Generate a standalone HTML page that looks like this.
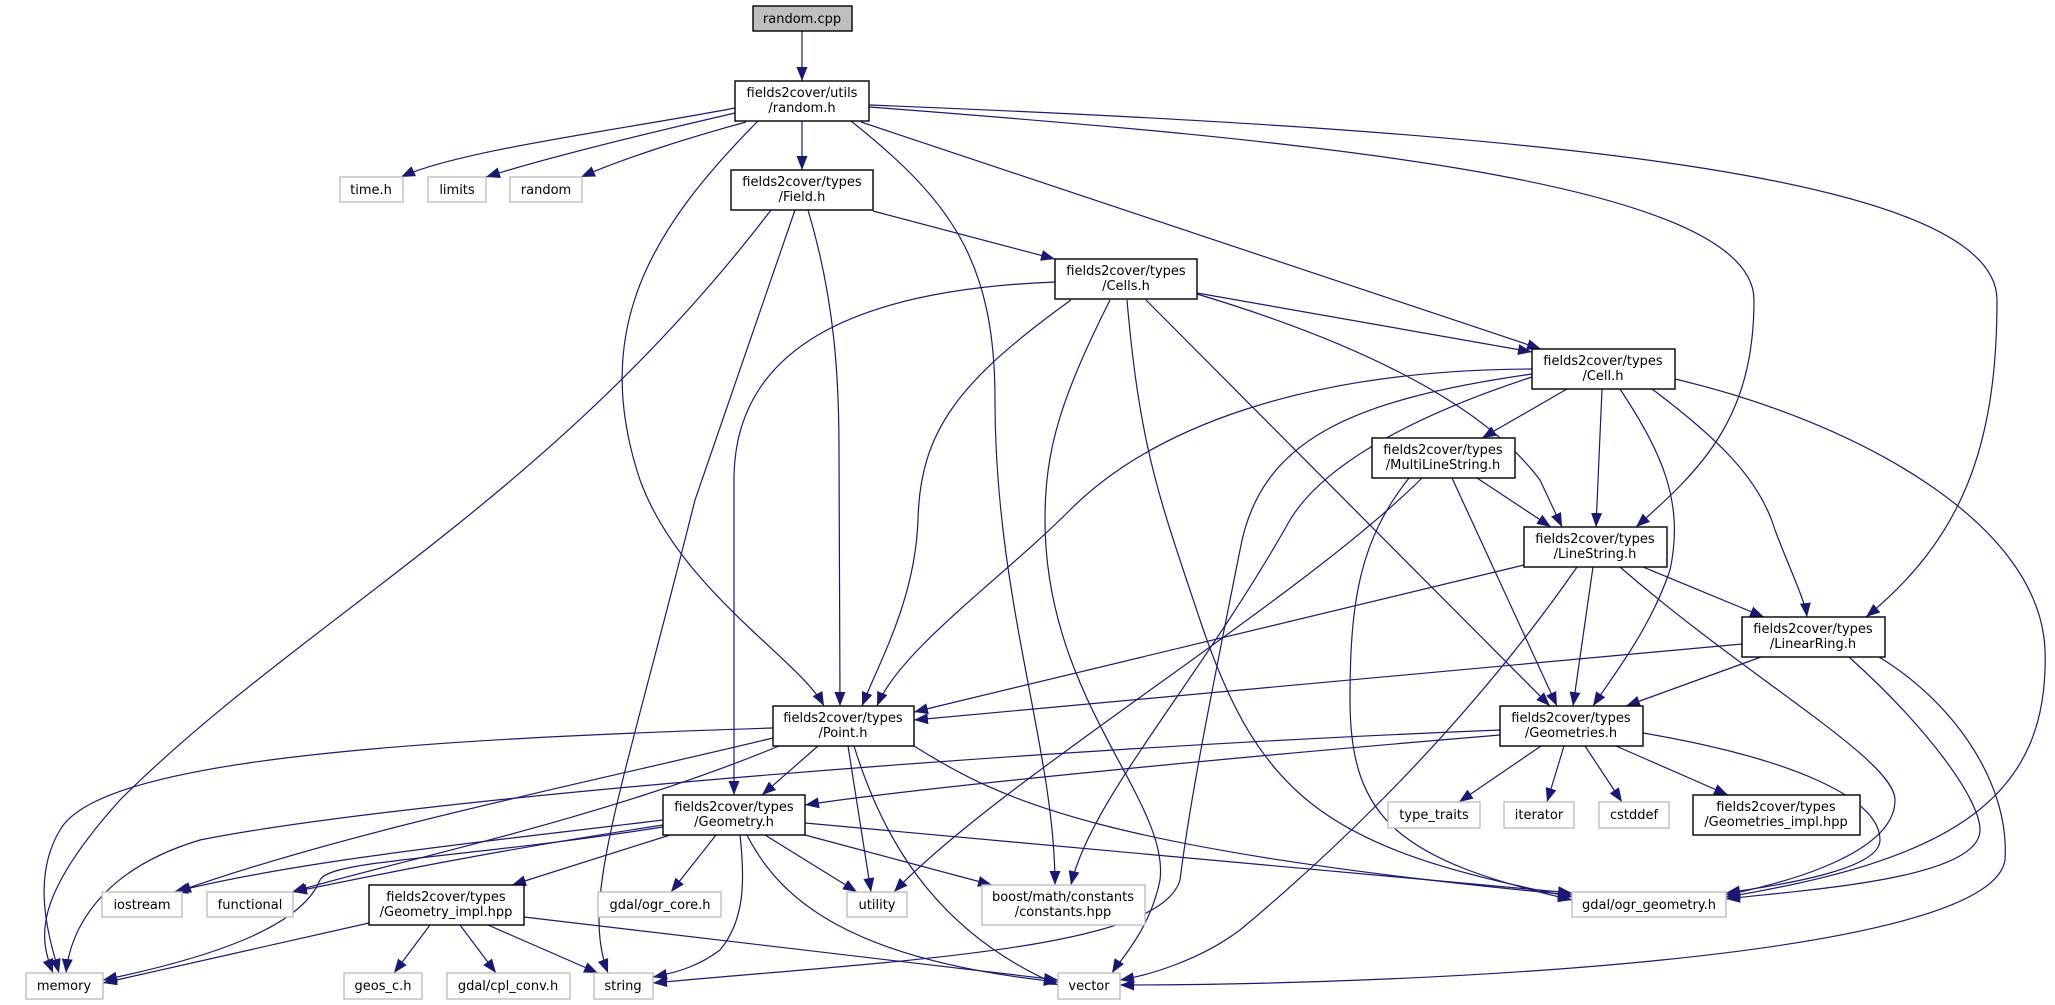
<!DOCTYPE html>
<html><head><meta charset="utf-8"><style>
html,body{margin:0;padding:0;background:#fff;}
svg{display:block;}
text{font-family:"DejaVu Sans","Liberation Sans",sans-serif;font-size:13px;fill:#000;text-anchor:middle;}
.e{fill:none;stroke:#191970;stroke-width:1.2;marker-end:url(#a);}
.n{fill:#fff;stroke:#000;stroke-width:1.4;}
.x{fill:#fff;stroke:#bfbfbf;stroke-width:1.4;}
</style></head><body>
<svg width="2055" height="1005" viewBox="0 0 2055 1005" xmlns="http://www.w3.org/2000/svg">
<defs><marker id="a" markerUnits="userSpaceOnUse" markerWidth="15" markerHeight="11" refX="14" refY="5.5" orient="auto"><path d="M0,0 L14,5.5 L0,11 z" fill="#191970"/></marker></defs>
<g>
<path class="e" d="M802 31 L802 81"/>
<path class="e" d="M735 108 C620 130 460 150 401 177"/>
<path class="e" d="M735 113 C640 135 540 160 486 177"/>
<path class="e" d="M746 122 C680 140 620 160 581 177"/>
<path class="e" d="M802 121 L802 170"/>
<path class="e" d="M758 121 C650 230 590 330 640 480 C680 590 800 660 824 706"/>
<path class="e" d="M851 121 C950 200 995 260 995 400 C995 600 1055 750 1055 885"/>
<path class="e" d="M861 122 L1541 349"/>
<path class="e" d="M869 107 C1300 140 1754 180 1754 300 C1754 420 1700 470 1636 527"/>
<path class="e" d="M869 105 C1500 130 1997 170 1997 300 C1997 450 1960 540 1866 617"/>
<path class="e" d="M771 210 C550 500 300 620 120 800 C30 900 40 940 53 973"/>
<path class="e" d="M795 210 L695 500 C620 800 580 900 608 973"/>
<path class="e" d="M808 210 C835 300 839 380 839 450 L840 706"/>
<path class="e" d="M873 211 L1055 259"/>
<path class="e" d="M1055 282 C850 290 734 350 734 480 L734 795"/>
<path class="e" d="M1071 300 C960 380 920 430 918 520 C915 600 880 660 862 706"/>
<path class="e" d="M1110 300 C1060 400 1045 450 1045 520 C1045 700 1170 800 1160 880 C1150 930 1120 960 1112 973"/>
<path class="e" d="M1127 300 C1140 450 1160 500 1200 620 C1260 800 1330 850 1572 897"/>
<path class="e" d="M1146 300 L1550 706"/>
<path class="e" d="M1197 293 L1532 352"/>
<path class="e" d="M1197 294 C1350 340 1480 400 1540 480 L1562 527"/>
<path class="e" d="M1532 369 C1300 370 1150 430 1070 510 C1000 580 900 650 877 706"/>
<path class="e" d="M1532 374 C1350 400 1260 440 1240 550 C1210 700 1190 800 1180 880 C1160 950 900 960 653 983"/>
<path class="e" d="M1532 377 C1400 420 1320 470 1290 520 C1200 680 1090 800 1071 885"/>
<path class="e" d="M1567 389 L1482 438"/>
<path class="e" d="M1602 389 L1596 527"/>
<path class="e" d="M1620 389 C1660 450 1685 500 1670 570 C1650 630 1610 680 1593 706"/>
<path class="e" d="M1652 389 C1720 440 1760 480 1775 530 C1790 570 1805 600 1807 617"/>
<path class="e" d="M1675 379 C1850 420 2040 520 2045 650 C2050 800 1950 860 1726 897"/>
<path class="e" d="M1477 478 L1551 527"/>
<path class="e" d="M1422 478 C1300 600 1000 780 894 892"/>
<path class="e" d="M1452 478 L1557 706"/>
<path class="e" d="M1409 478 C1360 540 1350 600 1350 700 C1350 820 1400 860 1572 900"/>
<path class="e" d="M1524 565 L914 712"/>
<path class="e" d="M1593 567 L1573 706"/>
<path class="e" d="M1643 567 L1764 617"/>
<path class="e" d="M1577 567 C1450 750 1300 880 1240 930 C1200 960 1150 975 1120 980"/>
<path class="e" d="M1620 567 C1750 680 1895 760 1895 800 C1895 850 1800 880 1726 895"/>
<path class="e" d="M1742 644 L914 720"/>
<path class="e" d="M1761 657 L1626 706"/>
<path class="e" d="M1849 657 C1930 730 1980 800 1980 830 C1980 880 1800 890 1726 899"/>
<path class="e" d="M1879 657 C1950 700 2010 780 2005 860 C1990 960 1400 985 1120 985"/>
<path class="e" d="M773 728 C400 740 100 760 60 830 C30 880 50 940 59 973"/>
<path class="e" d="M773 738 C600 780 350 830 177 892"/>
<path class="e" d="M779 746 C600 820 400 860 292 892"/>
<path class="e" d="M818 746 L762 795"/>
<path class="e" d="M848 746 L871 892"/>
<path class="e" d="M854 746 C880 830 930 930 1058 985"/>
<path class="e" d="M914 746 C1000 800 1100 850 1572 895"/>
<path class="e" d="M1500 730 C1000 750 400 800 200 840 C100 870 70 930 66 973"/>
<path class="e" d="M1500 735 C1200 760 900 790 805 805"/>
<path class="e" d="M1541 746 L1459 802"/>
<path class="e" d="M1564 746 L1547 802"/>
<path class="e" d="M1585 746 L1622 802"/>
<path class="e" d="M1616 746 L1728 795"/>
<path class="e" d="M1643 733 C1800 760 1880 800 1880 840 C1880 870 1780 885 1726 893"/>
<path class="e" d="M663 820 C500 840 300 860 174 892"/>
<path class="e" d="M663 825 C500 850 400 870 293 892"/>
<path class="e" d="M663 827 C450 860 330 860 320 880 C300 930 200 960 103 980"/>
<path class="e" d="M670 835 L512 885"/>
<path class="e" d="M716 835 L671 892"/>
<path class="e" d="M740 835 C745 880 745 920 720 950 C700 965 680 972 653 977"/>
<path class="e" d="M747 835 C780 900 850 960 1058 982"/>
<path class="e" d="M765 835 L857 892"/>
<path class="e" d="M805 835 L992 885"/>
<path class="e" d="M805 823 L1572 893"/>
<path class="e" d="M369 923 L103 983"/>
<path class="e" d="M430 925 L394 973"/>
<path class="e" d="M460 925 L496 973"/>
<path class="e" d="M488 925 L598 973"/>
<path class="e" d="M524 917 L1058 980"/>
</g>
<g>
<rect x="753" y="6" width="99" height="25" fill="#bfbfbf" stroke="#000" stroke-width="1.4"/><text x="802" y="23">random.cpp</text>
<rect class="n" x="735" y="81" width="134" height="40"/><text x="802" y="97">fields2cover/utils</text><text x="802" y="112">/random.h</text>
<rect class="x" x="340" y="177" width="63" height="25"/><text x="371" y="194">time.h</text>
<rect class="x" x="428" y="177" width="58" height="25"/><text x="457" y="194">limits</text>
<rect class="x" x="510" y="177" width="72" height="25"/><text x="546" y="194">random</text>
<rect class="n" x="731" y="170" width="142" height="40"/><text x="802" y="186">fields2cover/types</text><text x="802" y="201">/Field.h</text>
<rect class="n" x="1055" y="259" width="142" height="40"/><text x="1126" y="275">fields2cover/types</text><text x="1126" y="290">/Cells.h</text>
<rect class="n" x="1532" y="349" width="143" height="40"/><text x="1603" y="365">fields2cover/types</text><text x="1603" y="380">/Cell.h</text>
<rect class="n" x="1372" y="438" width="143" height="40"/><text x="1443" y="454">fields2cover/types</text><text x="1443" y="469">/MultiLineString.h</text>
<rect class="n" x="1524" y="527" width="143" height="40"/><text x="1595" y="543">fields2cover/types</text><text x="1595" y="558">/LineString.h</text>
<rect class="n" x="1742" y="617" width="143" height="40"/><text x="1813" y="633">fields2cover/types</text><text x="1813" y="648">/LinearRing.h</text>
<rect class="n" x="773" y="706" width="141" height="40"/><text x="843" y="722">fields2cover/types</text><text x="843" y="737">/Point.h</text>
<rect class="n" x="1500" y="706" width="143" height="40"/><text x="1571" y="722">fields2cover/types</text><text x="1571" y="737">/Geometries.h</text>
<rect class="n" x="663" y="795" width="142" height="40"/><text x="734" y="811">fields2cover/types</text><text x="734" y="826">/Geometry.h</text>
<rect class="x" x="1388" y="802" width="92" height="26"/><text x="1434" y="819">type_traits</text>
<rect class="x" x="1504" y="802" width="70" height="26"/><text x="1539" y="819">iterator</text>
<rect class="x" x="1599" y="802" width="70" height="26"/><text x="1634" y="819">cstddef</text>
<rect class="n" x="1693" y="795" width="167" height="40"/><text x="1776" y="811">fields2cover/types</text><text x="1776" y="826">/Geometries_impl.hpp</text>
<rect class="x" x="102" y="892" width="80" height="25"/><text x="142" y="909">iostream</text>
<rect class="x" x="207" y="892" width="86" height="25"/><text x="250" y="909">functional</text>
<rect class="n" x="369" y="885" width="155" height="40"/><text x="446" y="901">fields2cover/types</text><text x="446" y="916">/Geometry_impl.hpp</text>
<rect class="x" x="598" y="892" width="123" height="25"/><text x="660" y="909">gdal/ogr_core.h</text>
<rect class="x" x="847" y="892" width="60" height="25"/><text x="877" y="909">utility</text>
<rect class="x" x="982" y="885" width="163" height="40"/><text x="1063" y="901">boost/math/constants</text><text x="1063" y="916">/constants.hpp</text>
<rect class="x" x="1572" y="892" width="154" height="25"/><text x="1649" y="909">gdal/ogr_geometry.h</text>
<rect class="x" x="26" y="973" width="77" height="26"/><text x="64" y="990">memory</text>
<rect class="x" x="344" y="973" width="78" height="26"/><text x="383" y="990">geos_c.h</text>
<rect class="x" x="447" y="973" width="123" height="26"/><text x="508" y="990">gdal/cpl_conv.h</text>
<rect class="x" x="594" y="973" width="59" height="26"/><text x="623" y="990">string</text>
<rect class="x" x="1058" y="973" width="62" height="26"/><text x="1089" y="990">vector</text>
</g>
</svg>
</body></html>
